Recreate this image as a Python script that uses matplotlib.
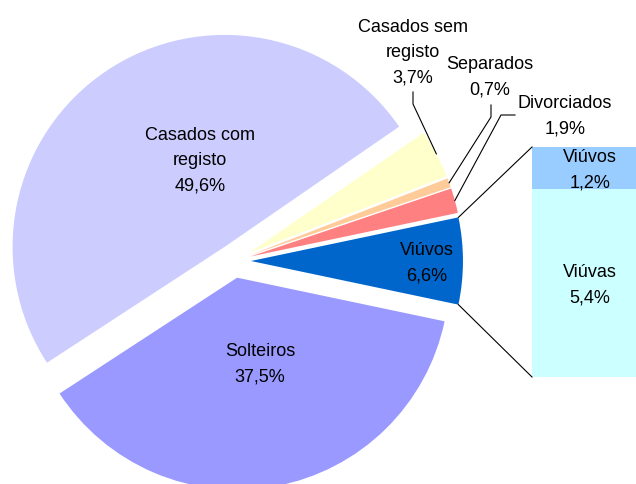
import numpy as np
import matplotlib
matplotlib.use('Agg')
import matplotlib.pyplot as plt

# dados da tarte (sentido anti-horário a partir da direita)
categorias = ['Viúvos', 'Divorciados', 'Separados', 'Casados sem\nregisto',
              'Casados com\nregisto', 'Solteiros']
valores = [6.6, 1.9, 0.7, 3.7, 49.6, 37.5]
cores = ['#0066CC', '#FF8080', '#FFCC99', '#FFFFCC', '#CCCCFF', '#9999FF']

# decomposição de "Viúvos" na barra (de baixo para cima)
barra_cat = ['Viúvas', 'Viúvos']
barra_val = [5.4, 1.2]
barra_cores = ['#CCFFFF', '#99CCFF']

W, H = 636, 485
CX, CY, R = 234, 262, 212   # centro e raio da tarte, em pixeis da imagem


def px(x, y):
    # pixeis da imagem -> coordenadas do eixo (raio = 1)
    return (x - CX) / R, (CY - y) / R


def pct(v):
    return f'{v:.1f}'.replace('.', ',') + '%'


plt.rcParams['font.family'] = ['Liberation Sans', 'DejaVu Sans']

fig = plt.figure(figsize=(W / 100, H / 100), dpi=100)
ax = fig.add_axes([0, 0, 1, 1])

wedges, _ = ax.pie(valores, colors=cores, startangle=-valores[0] / 100 * 180,
                   explode=[0.08] * len(valores), radius=1, counterclock=True,
                   wedgeprops=dict(linewidth=0))

ax.set_xlim(px(0, 0)[0], px(W, 0)[0])
ax.set_ylim(px(0, H)[1], px(0, 0)[1])
ax.set_aspect('equal')
ax.axis('off')

fs = 13
DY = 25.5 / R      # distância entre linhas
BASE = 6.3 / R     # da linha de base ao meio da linha


def rotulo(x, y, texto):
    # cada linha como texto próprio, centrado em (x, y)
    linhas = texto.split('\n')
    n = len(linhas)
    for k, t in enumerate(linhas):
        ax.text(x, y - (k - (n - 1) / 2) * DY - BASE, t, ha='center',
                va='baseline', fontsize=fs, color='black')


# rótulos da tarte
pos_rotulos = [(427, 261), (565, 114), (490, 75), (413, 51), (200, 159), (260, 362)]
for cat, v, (x, y) in zip(categorias, valores, pos_rotulos):
    rotulo(*px(x, y), f'{cat}\n{pct(v)}')

# linhas de chamada para as fatias pequenas
chamadas = {3: [(413, 93), (413, 105)],
            2: [(491, 106), (491, 118)],
            1: [(515, 116), (501, 116)]}
for i, pts in chamadas.items():
    w = wedges[i]
    tm = np.deg2rad((w.theta1 + w.theta2) / 2)
    fim = (w.center[0] + w.r * np.cos(tm), w.center[1] + w.r * np.sin(tm))
    xy = [px(*p) for p in pts] + [fim]
    ax.plot([p[0] for p in xy], [p[1] for p in xy], color='black', lw=0.8)

# barra de decomposição
bx0, bx1, by0 = 532, 648, 378
esc = (378 - 148) / R / sum(barra_val)
left = px(bx0, 0)[0]
largura = (bx1 - bx0) / R
base = px(0, by0)[1]
for cat, v, c in zip(barra_cat, barra_val, barra_cores):
    ax.bar(left, v * esc, width=largura, bottom=base, align='edge',
           color=c, linewidth=0)
    rotulo(left + largura / 2, base + v * esc / 2, f'{cat}\n{pct(v)}')
    base += v * esc

# ligação entre a fatia e a barra
w = wedges[0]
for ang, yb in [(w.theta2, base), (w.theta1, px(0, by0)[1])]:
    a = np.deg2rad(ang)
    ax.plot([w.center[0] + w.r * np.cos(a), left], [w.center[1] + w.r * np.sin(a), yb],
            color='black', lw=0.8)

fig.savefig('out.png', dpi=100)
